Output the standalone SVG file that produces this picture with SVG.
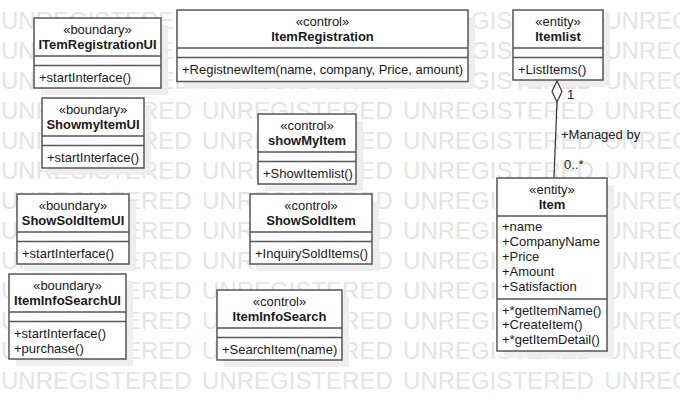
<svg xmlns="http://www.w3.org/2000/svg" xmlns:xlink="http://www.w3.org/1999/xlink" width="680" height="400" viewBox="0 0 680 400">
<style>
.wm{font-family:"Liberation Sans",Arial,sans-serif;font-size:24px;fill:#e4e4e4;word-spacing:3.7px}
.sh{fill:#eeeeee;stroke:none}
.box{fill:#ffffff;stroke:#555555;stroke-width:1.5}
.div{stroke:#555555;stroke-width:1.5}
.t{font-family:"Liberation Sans",Arial,sans-serif;font-size:13px;fill:#1a1a1a}
.st{text-anchor:middle}
.nm{text-anchor:middle;font-weight:bold}
.ln{stroke:#333333;stroke-width:1.2;fill:none}
</style>
<defs>
<text id="wmrow" class="wm" x="1" y="0">UNREGISTERED UNREGISTERED UNREGISTERED UNREGISTERED</text>
</defs>
<rect width="680" height="400" fill="#ffffff"/>
<g id="watermark">
<use xlink:href="#wmrow" y="29"/>
<use xlink:href="#wmrow" y="59"/>
<use xlink:href="#wmrow" y="89"/>
<use xlink:href="#wmrow" y="119"/>
<use xlink:href="#wmrow" y="149"/>
<use xlink:href="#wmrow" y="179"/>
<use xlink:href="#wmrow" y="209"/>
<use xlink:href="#wmrow" y="239"/>
<use xlink:href="#wmrow" y="269"/>
<use xlink:href="#wmrow" y="299"/>
<use xlink:href="#wmrow" y="329"/>
<use xlink:href="#wmrow" y="359"/>
<use xlink:href="#wmrow" y="389"/>
</g>

<g id="ITemRegistrationUI">
<rect class="sh" x="41" y="25" width="127" height="70"/>
<rect class="box" x="34" y="18" width="127" height="70"/>
<line class="div" x1="34" y1="56" x2="161" y2="56"/>
<line class="div" x1="34" y1="65.5" x2="161" y2="65.5"/>
<text class="t st" x="97.5" y="33.5">«boundary»</text>
<text class="t nm" x="97.5" y="48.5">ITemRegistrationUI</text>
<text class="t" x="39" y="81.5">+startInterface()</text>
</g>

<g id="ShowmyItemUI">
<rect class="sh" x="49" y="105" width="102" height="70"/>
<rect class="box" x="42" y="98" width="102" height="70"/>
<line class="div" x1="42" y1="136" x2="144" y2="136"/>
<line class="div" x1="42" y1="145.5" x2="144" y2="145.5"/>
<text class="t st" x="93" y="113.5">«boundary»</text>
<text class="t nm" x="93" y="128.5">ShowmyItemUI</text>
<text class="t" x="47" y="161.5">+startInterface()</text>
</g>

<g id="ShowSoldItemUI">
<rect class="sh" x="24" y="201" width="112" height="70"/>
<rect class="box" x="17" y="194" width="112" height="70"/>
<line class="div" x1="17" y1="232" x2="129" y2="232"/>
<line class="div" x1="17" y1="241.5" x2="129" y2="241.5"/>
<text class="t st" x="73" y="209.5">«boundary»</text>
<text class="t nm" x="73" y="224.5">ShowSoldItemUI</text>
<text class="t" x="22" y="257.5">+startInterface()</text>
</g>

<g id="ItemInfoSearchUI">
<rect class="sh" x="16" y="281" width="117" height="85"/>
<rect class="box" x="9" y="274" width="117" height="85"/>
<line class="div" x1="9" y1="312" x2="126" y2="312"/>
<line class="div" x1="9" y1="321.5" x2="126" y2="321.5"/>
<text class="t st" x="67.5" y="289.5">«boundary»</text>
<text class="t nm" x="67.5" y="304.5">ItemInfoSearchUI</text>
<text class="t" x="14" y="337.5">+startInterface()</text>
<text class="t" x="14" y="352.5">+purchase()</text>
</g>

<g id="ItemRegistration">
<rect class="sh" x="184" y="17" width="291" height="71.5"/>
<rect class="box" x="177" y="10" width="291" height="71.5"/>
<line class="div" x1="177" y1="48" x2="468" y2="48"/>
<line class="div" x1="177" y1="57.5" x2="468" y2="57.5"/>
<text class="t st" x="322.5" y="25.5">«control»</text>
<text class="t nm" x="322.5" y="40.5">ItemRegistration</text>
<text class="t" x="182" y="74">+RegistnewItem(name, company, Price, amount)</text>
</g>

<g id="showMyItem">
<rect class="sh" x="265" y="121" width="98" height="70"/>
<rect class="box" x="258" y="114" width="98" height="70"/>
<line class="div" x1="258" y1="152" x2="356" y2="152"/>
<line class="div" x1="258" y1="161.5" x2="356" y2="161.5"/>
<text class="t st" x="307" y="129.5">«control»</text>
<text class="t nm" x="307" y="144.5">showMyItem</text>
<text class="t" x="263" y="177.5">+ShowItemlist()</text>
</g>

<g id="ShowSoldItem">
<rect class="sh" x="257" y="201" width="122" height="70"/>
<rect class="box" x="250" y="194" width="122" height="70"/>
<line class="div" x1="250" y1="232" x2="372" y2="232"/>
<line class="div" x1="250" y1="241.5" x2="372" y2="241.5"/>
<text class="t st" x="311" y="209.5">«control»</text>
<text class="t nm" x="311" y="224.5">ShowSoldItem</text>
<text class="t" x="255" y="257.5">+InquirySoldItems()</text>
</g>

<g id="ItemInfoSearch">
<rect class="sh" x="224" y="297" width="125" height="70"/>
<rect class="box" x="217" y="290" width="125" height="70"/>
<line class="div" x1="217" y1="328" x2="342" y2="328"/>
<line class="div" x1="217" y1="337.5" x2="342" y2="337.5"/>
<text class="t st" x="279.5" y="305.5">«control»</text>
<text class="t nm" x="279.5" y="320.5">ItemInfoSearch</text>
<text class="t" x="222" y="353.5">+SearchItem(name)</text>
</g>

<g id="Itemlist">
<rect class="sh" x="520" y="17" width="90" height="70"/>
<rect class="box" x="513" y="10" width="90" height="70"/>
<line class="div" x1="513" y1="48" x2="603" y2="48"/>
<line class="div" x1="513" y1="57.5" x2="603" y2="57.5"/>
<text class="t st" x="558" y="25.5">«entity»</text>
<text class="t nm" x="558" y="40.5">Itemlist</text>
<text class="t" x="518" y="73.5">+ListItems()</text>
</g>

<g id="Item">
<rect class="sh" x="504" y="185" width="110" height="173"/>
<rect class="box" x="497" y="178" width="110" height="173"/>
<line class="div" x1="497" y1="216" x2="607" y2="216"/>
<line class="div" x1="497" y1="299" x2="607" y2="299"/>
<text class="t st" x="552" y="193.5">«entity»</text>
<text class="t nm" x="552" y="208.5">Item</text>
<text class="t" x="502" y="231">+name</text>
<text class="t" x="502" y="246">+CompanyName</text>
<text class="t" x="502" y="261">+Price</text>
<text class="t" x="502" y="275.5">+Amount</text>
<text class="t" x="502" y="290.5">+Satisfaction</text>
<text class="t" x="502" y="314.5">+*getItemName()</text>
<text class="t" x="502" y="329">+CreateItem()</text>
<text class="t" x="502" y="344">+*getItemDetail()</text>
</g>

<g id="connectors">
<line class="ln" x1="557" y1="102" x2="554" y2="177.5"/>
<polygon points="557,81 562,91.5 557,102 552,91.5" fill="#ffffff" stroke="#333333" stroke-width="1.2"/>
<text class="t" x="567" y="99">1</text>
<text class="t" x="561" y="139">+Managed by</text>
<text class="t" x="564" y="169">0..*</text>
</g>
</svg>
